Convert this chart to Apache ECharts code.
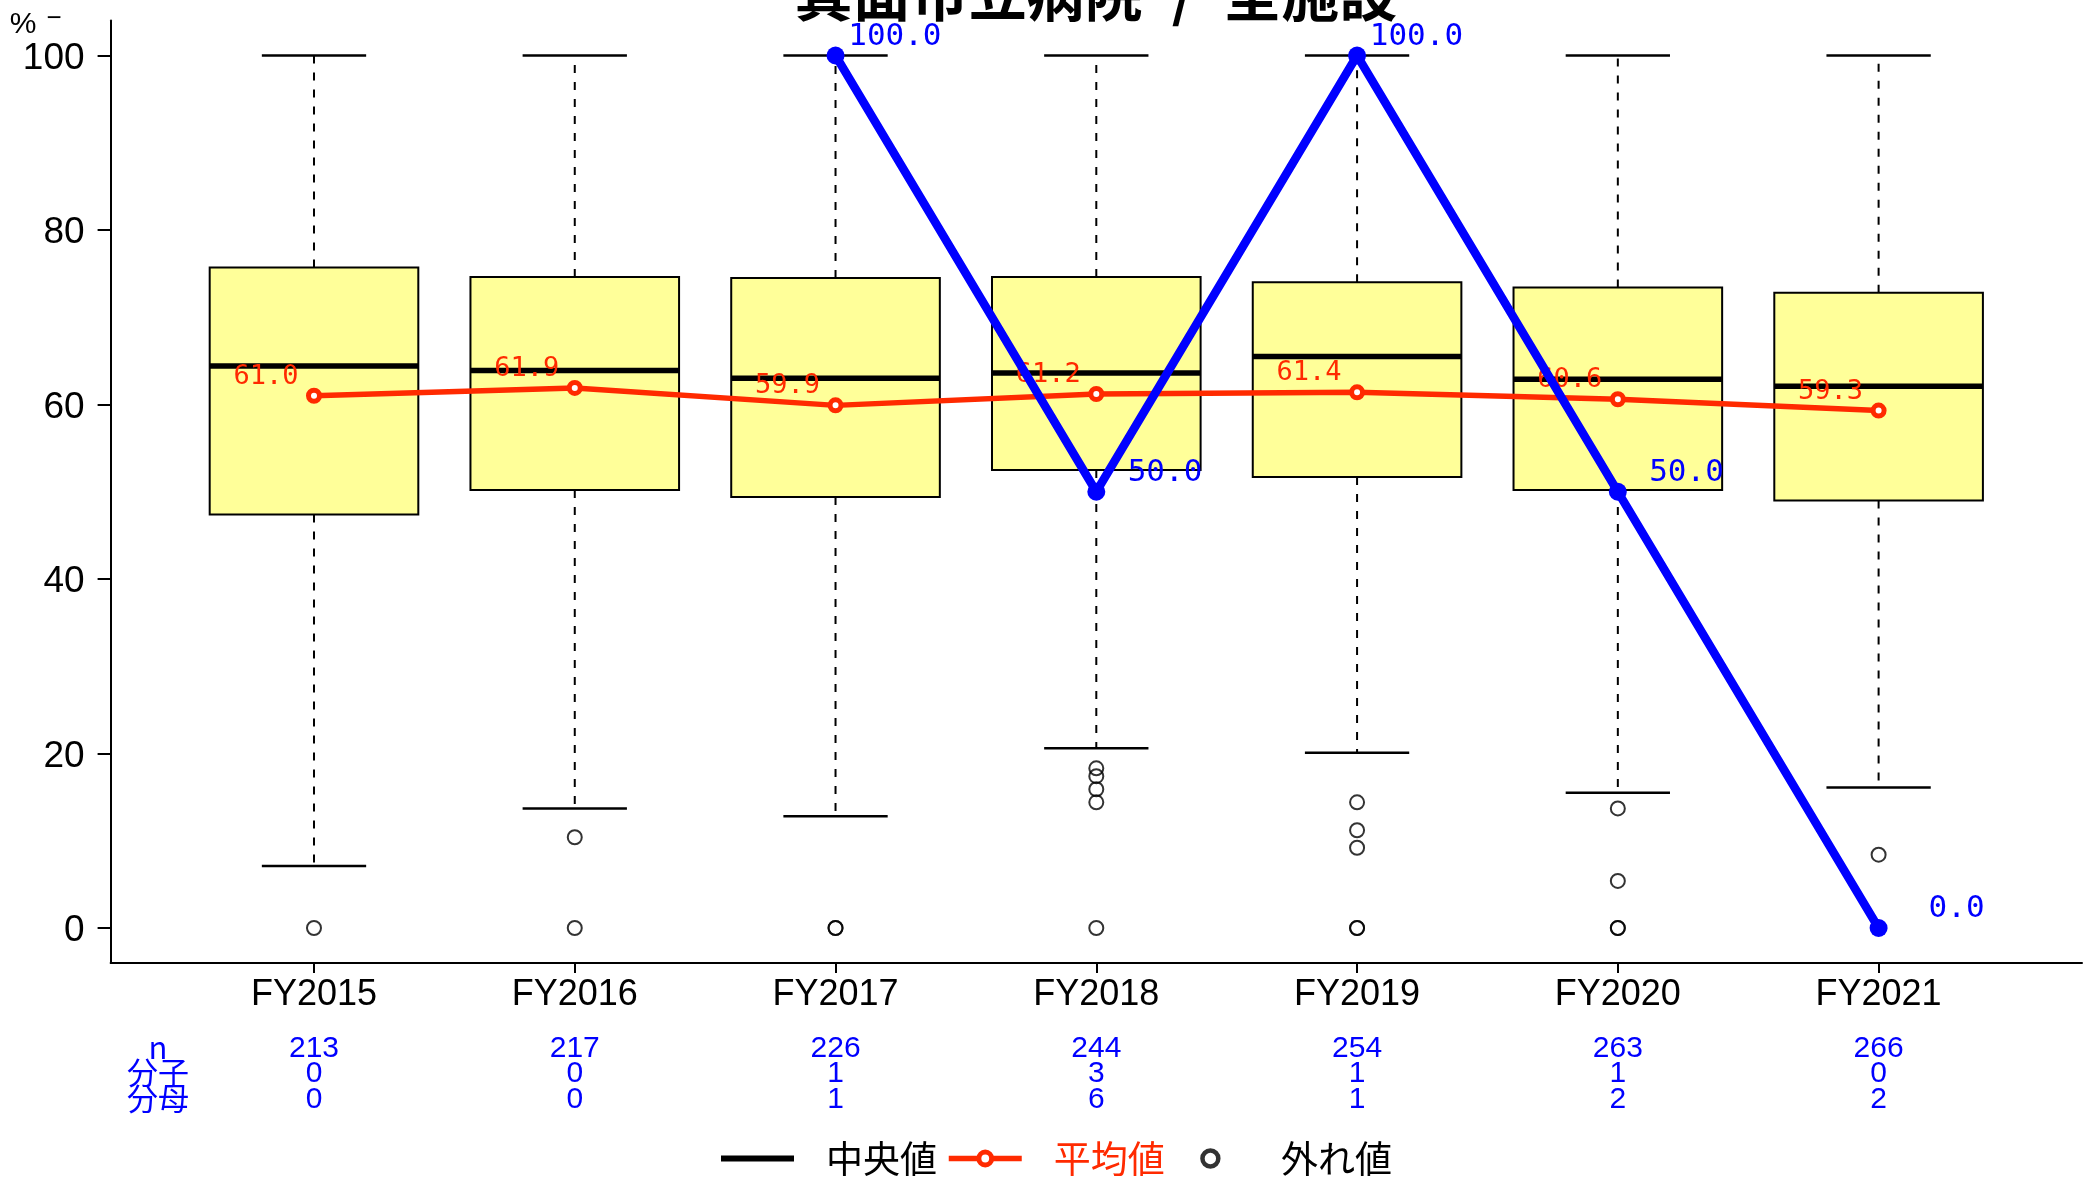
<!DOCTYPE html>
<html><head><meta charset="utf-8">
<script src="https://cdn.jsdelivr.net/npm/echarts@6/dist/echarts.min.js"></script>
<style>html,body{margin:0;padding:0;background:#fff}#c{width:2089px;height:1181px}</style>
</head><body><div id="c"></div>
<script>
// ---- data ----
const categories = ['FY2015','FY2016','FY2017','FY2018','FY2019','FY2020','FY2021'];
const whiskerLow  = [7.1, 13.7, 12.8, 20.6, 20.1, 15.5, 16.1];
const q1          = [47.4, 50.2, 49.4, 52.5, 51.7, 50.2, 49.0];
const median      = [64.4, 63.9, 63.0, 63.6, 65.5, 62.9, 62.1];
const q3          = [75.7, 74.6, 74.5, 74.6, 74.0, 73.4, 72.8];
const whiskerHigh = [100, 100, 100, 100, 100, 100, 100];
const outliers = [[0], [10.4, 0], [0, 0], [18.3, 17.4, 15.9, 14.4, 0], [14.4, 11.2, 9.2, 0, 0], [13.7, 5.4, 0, 0], [8.4]];
const means    = [61.0, 61.9, 59.9, 61.2, 61.4, 60.6, 59.3];
const facility = [null, null, 100.0, 50.0, 100.0, 50.0, 0.0];
const nCounts      = [213, 217, 226, 244, 254, 263, 266];
const numerators   = [0, 0, 1, 3, 1, 1, 0];
const denominators = [0, 0, 1, 6, 1, 2, 2];
const yTicks = [0, 20, 40, 60, 80, 100];
const rowLabels = ['n', '分子', '分母'];
const titleText = '箕面市立病院\u2002/\u2002全施設';
const legendNames = ['中央値', '平均値', '外れ値'];

// ---- styles ----
const RED = '#FF2A00';
const BLUE = '#0000FF';
const SANS = '"Liberation Sans", Arial, sans-serif';
const MONO = '"DejaVu Sans Mono", monospace';
const xPos = categories.map((c, i) => i + 1);

const boxData = xPos.map((x, i) => [x, whiskerLow[i], q1[i], median[i], q3[i], whiskerHigh[i]]);
const outData = [];
outliers.forEach((arr, i) => arr.forEach(v => outData.push([i + 1, v])));

// legend icons: full-width bounding boxes so that items lay out evenly
const medianIcon = 'path://M0,0H73V6H0Z';
const ringIcon = 'path://M0,8L0,8M69,8L69,8M40,8A7.5,7.5,0,1,1,25,8A7.5,7.5,0,1,1,40,8Z';

const chart = echarts.init(document.getElementById('c'), null, {renderer: 'canvas'});
const option = {
  animation: false,
  backgroundColor: '#fff',
  grid: {left: 110.6, right: 7, top: 20.6, bottom: 218.1, containLabel: false},
  xAxis: [{
    type: 'value', min: 0.22, max: 7.78,
    axisLine: {show: true, onZero: false, lineStyle: {color: '#000', width: 2}},
    axisTick: {show: true, customValues: xPos, length: 10, lineStyle: {color: '#000', width: 2}},
    axisLabel: {show: true, customValues: xPos, formatter: v => categories[Math.round(v) - 1],
      fontSize: 36, fontFamily: SANS, color: '#000', margin: 14},
    splitLine: {show: false}
  }, {
    type: 'value', min: 0.22, max: 7.78, position: 'bottom', gridIndex: 0,
    axisLine: {show: false, onZero: false}, axisTick: {show: false}, splitLine: {show: false},
    axisLabel: {show: true, customValues: xPos,
      formatter: v => { const i = Math.round(v) - 1; return nCounts[i] + '\n' + numerators[i] + '\n' + denominators[i]; },
      fontSize: 30, lineHeight: 25.5, fontFamily: SANS, color: BLUE, margin: 73, verticalAlign: 'top'}
  }],
  yAxis: {
    type: 'value', min: -4, max: 104,
    axisLine: {show: true, onZero: false, lineStyle: {color: '#000', width: 2}},
    axisTick: {show: true, customValues: yTicks, length: 13, lineStyle: {color: '#000', width: 2}},
    axisLabel: {show: true, customValues: yTicks, fontSize: 37, fontFamily: SANS, color: '#000', margin: 26,
      formatter: v => '{v|' + v + '}', rich: {v: {fontSize: 37, fontFamily: SANS, color: '#000', padding: [6, 0, 0, 0]}}},
    splitLine: {show: false}
  },
  legend: {
    left: 721, top: 1140, padding: 0, itemWidth: 73, itemHeight: 16, itemGap: 9,
    selectedMode: false,
    formatter: name => '{g|}' + name,
    textStyle: {fontSize: 37, fontFamily: 'Noto Sans CJK JP', color: '#000', rich: {g: {width: 27}}},
    data: [
      {name: legendNames[0], icon: medianIcon, itemStyle: {color: '#000'}},
      {name: legendNames[1], textStyle: {color: RED},
        lineStyle: {width: 5.5, color: RED},
        itemStyle: {color: '#fff', borderColor: RED, borderWidth: 5}},
      {name: legendNames[2], icon: ringIcon, itemStyle: {borderWidth: 4.5, borderColor: '#000', color: 'rgba(0,0,0,0)'}}
    ]
  },
  graphic: [
    {type: 'text', x: 1096, y: -6, style: {text: titleText, fontSize: 58, fontWeight: 'bold',
      fontFamily: 'Noto Sans CJK JP', fill: '#000', align: 'center', verticalAlign: 'middle'}},
    {type: 'text', x: 23, y: 25, style: {text: '%', fontSize: 30, fontFamily: SANS, fill: '#000', align: 'center', verticalAlign: 'middle'}},
    {type: 'text', x: 54, y: 19, style: {text: '−', fontSize: 26, fontFamily: SANS, fill: '#000', align: 'center', verticalAlign: 'middle'}},
    {type: 'text', x: 158, y: 1034, style: {text: rowLabels.join('\n'), fontSize: 31, lineHeight: 25.5,
      fontFamily: '"Noto Sans CJK JP"', fill: BLUE, align: 'center', verticalAlign: 'top'}}
  ],
  series: [
    {
      name: legendNames[0], type: 'custom', z: 2, data: boxData,
      encode: {x: 0, y: [1, 2, 3, 4, 5]},
      itemStyle: {color: '#000'},
      renderItem: (params, api) => {
        const x = api.value(0);
        const lo = api.value(1), a = api.value(2), m = api.value(3), b = api.value(4), hi = api.value(5);
        const c = (dx, v) => api.coord([x + dx, v]);
        const ln = (p1, p2, st) => ({type: 'line', shape: {x1: p1[0], y1: p1[1], x2: p2[0], y2: p2[1]}, style: st});
        const dash = {stroke: '#000', lineWidth: 2, lineDash: [8, 9]};
        const solid = {stroke: '#000', lineWidth: 2.5};
        const tl = c(-0.4, b), br = c(0.4, a);
        return {type: 'group', children: [
          ln(c(0, b), c(0, hi), dash),
          ln(c(0, a), c(0, lo), dash),
          ln(c(-0.2, hi), c(0.2, hi), solid),
          ln(c(-0.2, lo), c(0.2, lo), solid),
          {type: 'rect', shape: {x: tl[0], y: tl[1], width: br[0] - tl[0], height: br[1] - tl[1]},
            style: {fill: '#FFFF99', stroke: '#000', lineWidth: 2}},
          ln(c(-0.4, m), c(0.4, m), {stroke: '#000', lineWidth: 5.5})
        ]};
      }
    },
    {
      name: legendNames[2], type: 'scatter', z: 3, data: outData,
      symbol: 'circle', symbolSize: 14,
      itemStyle: {color: 'rgba(0,0,0,0)', borderColor: '#000', borderWidth: 2}
    },
    {
      name: legendNames[1], type: 'line', z: 4, data: means.map((v, i) => [i + 1, v]),
      symbol: 'circle', symbolSize: 11, showAllSymbol: true,
      itemStyle: {color: '#fff', borderColor: RED, borderWidth: 5},
      lineStyle: {color: RED, width: 5.5},
      label: {show: true, position: 'left', distance: 7.5, offset: [0, -19],
        formatter: p => p.value[1].toFixed(1), color: RED, fontSize: 27, fontFamily: MONO}
    },
    {
      name: '施設', type: 'line', z: 5, data: facility.map((v, i) => [i + 1, v]),
      symbol: 'circle', symbolSize: 18, showAllSymbol: true, connectNulls: false,
      itemStyle: {color: BLUE},
      lineStyle: {color: BLUE, width: 8.5},
      label: {show: true, position: 'right', distance: 4, align: 'right', offset: [93, -19],
        formatter: p => p.value[1] == null ? '' : p.value[1].toFixed(1), color: BLUE, fontSize: 31, fontFamily: MONO}
    }
  ]
};
chart.setOption(option);
</script>
</body></html>
